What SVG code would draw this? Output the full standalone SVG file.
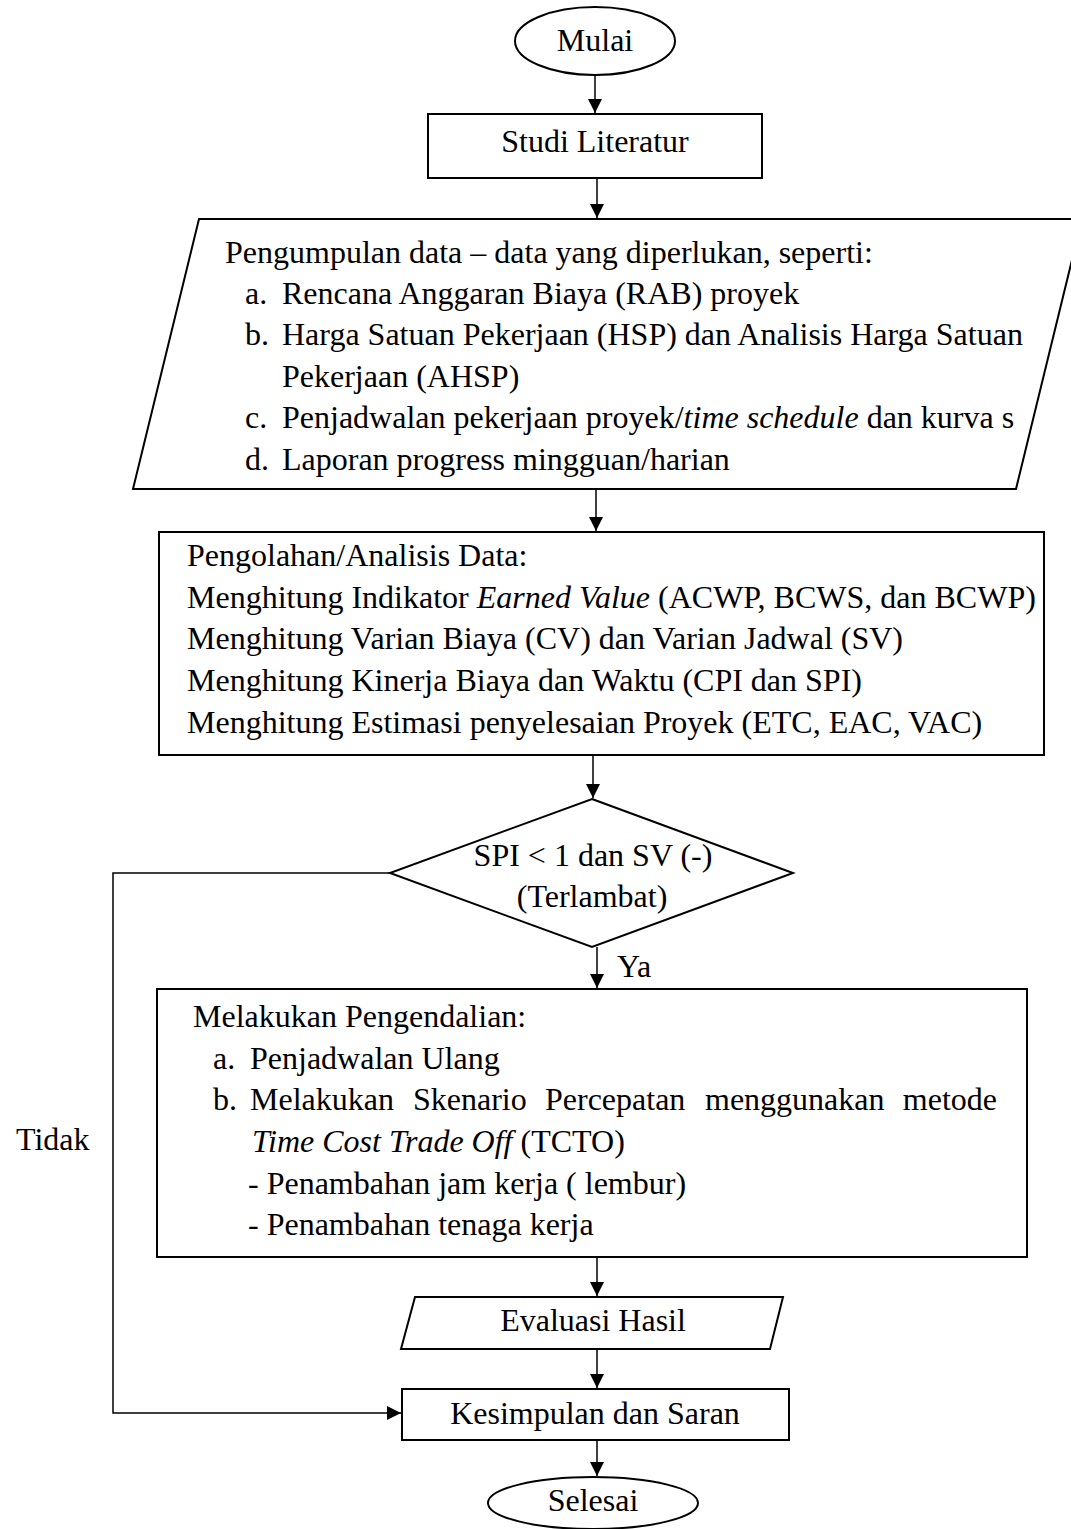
<svg xmlns="http://www.w3.org/2000/svg" width="1071" height="1529" viewBox="0 0 1071 1529">
<defs>
<style>
.t{font-family:"Liberation Serif","Times New Roman",serif;font-size:32px;fill:#000}
.m{text-anchor:middle}
.i{font-style:italic}
.s{fill:#fff;stroke:#000;stroke-width:2}
.c{fill:none;stroke:#000;stroke-width:1.5}
</style>
<marker id="ah" markerUnits="userSpaceOnUse" markerWidth="14" markerHeight="14" refX="14" refY="7" orient="auto">
<path d="M0,0 L14,7 L0,14 z" fill="#000"/>
</marker>
</defs>
<rect width="1071" height="1529" fill="#fff"/>
<g id="connectors">
<line class="c" x1="595" y1="75" x2="595" y2="113" marker-end="url(#ah)"/>
<line class="c" x1="597" y1="178" x2="597" y2="218" marker-end="url(#ah)"/>
<line class="c" x1="596" y1="489" x2="596" y2="531" marker-end="url(#ah)"/>
<line class="c" x1="593" y1="755" x2="593" y2="798" marker-end="url(#ah)"/>
<line class="c" x1="597" y1="947" x2="597" y2="988" marker-end="url(#ah)"/>
<line class="c" x1="597" y1="1257" x2="597" y2="1296" marker-end="url(#ah)"/>
<line class="c" x1="597" y1="1349" x2="597" y2="1388" marker-end="url(#ah)"/>
<line class="c" x1="597" y1="1440" x2="597" y2="1476" marker-end="url(#ah)"/>
<polyline class="c" points="390,873 113,873 113,1413 401,1413" marker-end="url(#ah)"/>
<text class="t" x="617" y="977">Ya</text>
<text class="t" x="16" y="1150">Tidak</text>
</g>
<g id="mulai">
<ellipse class="s" cx="595" cy="41" rx="80" ry="34"/>
<text class="t m" x="595" y="51">Mulai</text>
</g>
<g id="studi">
<rect class="s" x="428" y="114" width="334" height="64"/>
<text class="t m" x="595" y="152">Studi Literatur</text>
</g>
<g id="pengumpulan">
<polygon class="s" points="199,219 1082,219 1016,489 133,489"/>
<text class="t" x="225" y="263">Pengumpulan data – data yang diperlukan, seperti:</text>
<text class="t" x="245" y="304">a.</text><text class="t" x="282" y="304">Rencana Anggaran Biaya (RAB) proyek</text>
<text class="t" x="245" y="345">b.</text><text class="t" x="282" y="345">Harga Satuan Pekerjaan (HSP) dan Analisis Harga Satuan</text>
<text class="t" x="282" y="387">Pekerjaan (AHSP)</text>
<text class="t" x="245" y="428">c.</text><text class="t" x="282" y="428">Penjadwalan pekerjaan proyek/<tspan class="i">time schedule</tspan> dan kurva s</text>
<text class="t" x="245" y="470">d.</text><text class="t" x="282" y="470">Laporan progress mingguan/harian</text>
</g>
<g id="analisis">
<rect class="s" x="159" y="532" width="885" height="223"/>
<text class="t" x="187" y="566">Pengolahan/Analisis Data:</text>
<text class="t" x="187" y="608">Menghitung Indikator <tspan class="i">Earned Value</tspan> (ACWP, BCWS, dan BCWP)</text>
<text class="t" x="187" y="649">Menghitung Varian Biaya (CV) dan Varian Jadwal (SV)</text>
<text class="t" x="187" y="691">Menghitung Kinerja Biaya dan Waktu (CPI dan SPI)</text>
<text class="t" x="187" y="733">Menghitung Estimasi penyelesaian Proyek (ETC, EAC, VAC)</text>
</g>
<g id="keputusan">
<polygon class="s" points="592,799 793,873 592,947 390,873"/>
<text class="t m" x="593" y="866">SPI &lt; 1 dan SV (-)</text>
<text class="t m" x="592" y="907">(Terlambat)</text>
</g>
<g id="pengendalian">
<rect class="s" x="157" y="989" width="870" height="268"/>
<text class="t" x="193" y="1027">Melakukan Pengendalian:</text>
<text class="t" x="213" y="1069">a.</text><text class="t" x="250" y="1069">Penjadwalan Ulang</text>
<text class="t" x="213" y="1110">b.</text>
<text class="t" x="250" y="1110">Melakukan</text>
<text class="t" x="413" y="1110">Skenario</text>
<text class="t" x="545" y="1110">Percepatan</text>
<text class="t" x="705" y="1110">menggunakan</text>
<text class="t" x="997" y="1110" text-anchor="end">metode</text>
<text class="t" x="252" y="1152"><tspan class="i">Time Cost Trade Off</tspan> (TCTO)</text>
<text class="t" x="248" y="1194">- Penambahan jam kerja ( lembur)</text>
<text class="t" x="248" y="1235">- Penambahan tenaga kerja</text>
</g>
<g id="evaluasi">
<polygon class="s" points="415,1297 783,1297 770,1349 401,1349"/>
<text class="t m" x="593" y="1331">Evaluasi Hasil</text>
</g>
<g id="kesimpulan">
<rect class="s" x="402" y="1389" width="387" height="51"/>
<text class="t m" x="595" y="1424">Kesimpulan dan Saran</text>
</g>
<g id="selesai">
<ellipse class="s" cx="593" cy="1503" rx="105" ry="26"/>
<text class="t m" x="593" y="1511">Selesai</text>
</g>
</svg>
